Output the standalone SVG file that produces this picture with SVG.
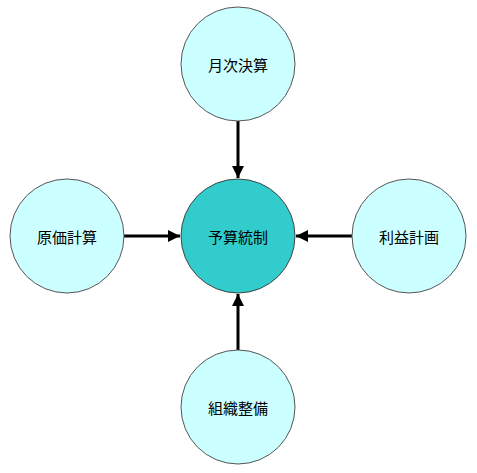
<svg xmlns="http://www.w3.org/2000/svg" width="477" height="473" viewBox="0 0 477 473">
<style>
.n{fill:#ccffff;stroke:#555;stroke-width:1}
.c{fill:#33cccc;stroke:#444;stroke-width:1}
text{font-family:"Noto Sans CJK JP","Noto Sans CJK SC",sans-serif;font-size:15px;fill:#000;text-anchor:middle;dominant-baseline:central}
.e{stroke:#000;stroke-width:3;fill:none;marker-end:url(#a)}
</style>
<defs>
<marker id="a" markerWidth="4" markerHeight="4" refX="4" refY="2" orient="auto" markerUnits="strokeWidth">
<path d="M0,0 L4,2 L0,4 Z" fill="#000"/>
</marker>
</defs>
<rect width="477" height="473" fill="#fff"/>
<g id="edges">
<line class="e" x1="238" y1="121" x2="238" y2="178"/>
<line class="e" x1="124" y1="236" x2="180" y2="236"/>
<line class="e" x1="352" y1="236" x2="296" y2="236"/>
<line class="e" x1="238" y1="350" x2="238" y2="294"/>
</g>
<g id="center"><circle class="c" cx="238" cy="236" r="57"/><text x="238" y="236">予算統制</text></g>
<g id="top"><circle class="n" cx="238" cy="64" r="57"/><text x="238" y="64">月次決算</text></g>
<g id="left"><circle class="n" cx="67" cy="236" r="57"/><text x="67" y="236">原価計算</text></g>
<g id="right"><circle class="n" cx="409" cy="236" r="57"/><text x="409" y="236">利益計画</text></g>
<g id="bottom"><circle class="n" cx="238" cy="407" r="57"/><text x="238" y="407">組織整備</text></g>
</svg>
